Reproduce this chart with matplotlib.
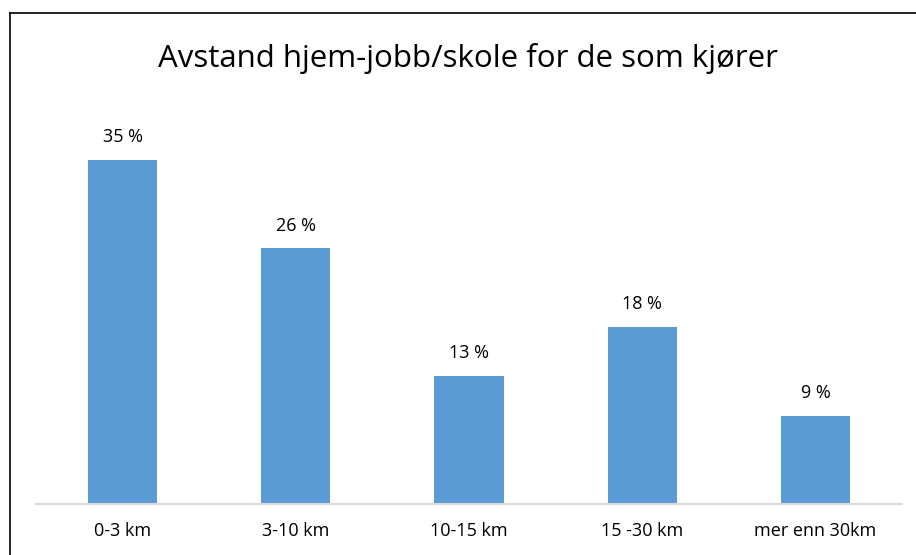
import matplotlib
matplotlib.use("Agg")
import matplotlib.pyplot as plt
from matplotlib.lines import Line2D

categories = ["0-3 km", "3-10 km", "10-15 km", "15 -30 km", "mer enn 30km"]
values = [35, 26, 13, 18, 9]
value_labels = ["35 %", "26 %", "13 %", "18 %", "9 %"]
title = "Avstand hjem-jobb/skole for de som kjører"

W, H = 916, 555
fig = plt.figure(figsize=(W / 100, H / 100), dpi=100)
plt.rcParams['font.family'] = ['Open Sans', 'DejaVu Sans']

ax_left, ax_right = 36 / W, 902 / W
ax_bottom, ax_top = 1 - 504 / H, 1 - 110 / H
ax = fig.add_axes([ax_left, ax_bottom, ax_right - ax_left, ax_top - ax_bottom])
x = list(range(len(categories)))
ax.bar(x, values, width=0.4, color="#5B9BD5", zorder=2)
ax.set_xlim(-0.5, len(categories) - 0.5)
ax.set_ylim(0, 394 / 9.83)
for s in ["top", "left", "right"]:
    ax.spines[s].set_visible(False)
ax.spines["bottom"].set_color("#D9D9D9")
ax.spines["bottom"].set_linewidth(1.5)
ax.set_yticks([])
ax.set_xticks(x)
ax.set_xticklabels(categories, fontsize=13, color="#000000")
ax.tick_params(axis="x", length=0, pad=13)
for xi, v, lab in zip(x, values, value_labels):
    ax.annotate(lab, (xi, v), xytext=(0, 10), textcoords="offset points",
                ha="center", va="bottom", fontsize=13, color="#000000")

fig.text(468 / W, 1 - 58 / H, title, ha="center", va="center", fontsize=22.5, color="#000000")

fig.add_artist(Line2D([10 / W, 1], [1 - 13 / H, 1 - 13 / H], transform=fig.transFigure, color="black", lw=1.2))
fig.add_artist(Line2D([10 / W, 10 / W], [1 - 13 / H, 0], transform=fig.transFigure, color="black", lw=1.2))

fig.savefig("out.png", dpi=100, facecolor="white")
